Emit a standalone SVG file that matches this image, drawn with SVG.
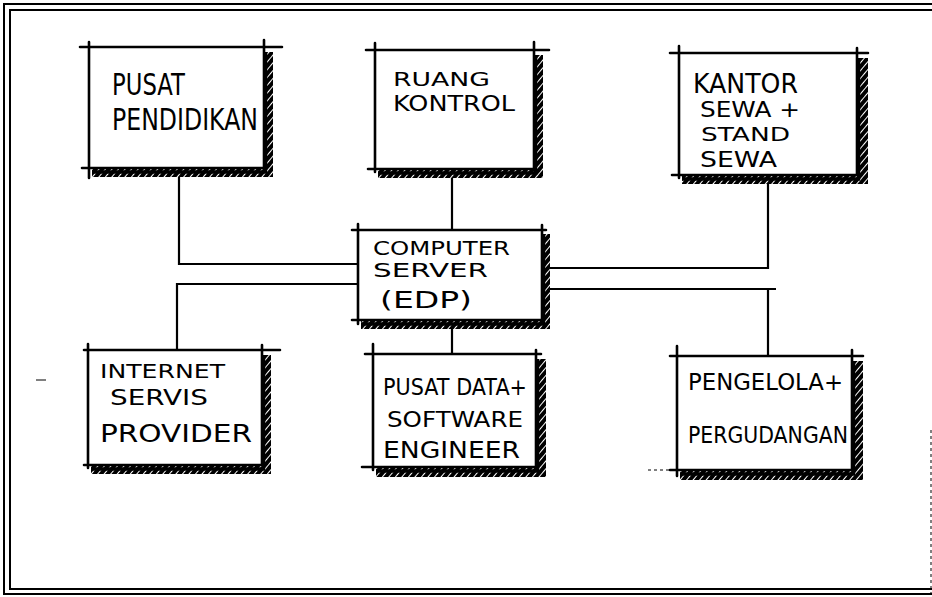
<svg xmlns="http://www.w3.org/2000/svg" width="932" height="597" viewBox="0 0 932 597">
<defs>
<pattern id="hatch" width="5" height="5" patternUnits="userSpaceOnUse" patternTransform="rotate(40)">
<rect width="5" height="5" fill="#fff"/>
<rect width="4" height="5" fill="#000"/>
</pattern>
</defs>
<style>
.frame{stroke:#000;stroke-width:2;fill:none}
.edge{stroke:#000;stroke-width:2.6;fill:none;stroke-linecap:round}
.sh{fill:url(#hatch)}
.shl{stroke:#000;stroke-width:3.5;fill:none}
.con{stroke:#000;stroke-width:2.2;fill:none}
.mark{stroke:#000;stroke-width:1;fill:none}
.t{font-family:"DejaVu Sans","Liberation Sans",sans-serif;fill:#000;font-weight:normal}
</style>
<rect width="932" height="597" fill="#fff"/>
<g id="frame">
<path class="frame" d="M932 4 H4 V594 H932"/>
<path class="frame" d="M932 10 H10 V589 H932"/>
<path class="mark" d="M931 430 V597" stroke-dasharray="3 3" stroke="#999"/>
</g>
<g id="connectors">
<path class="con" d="M179 175 V264 H358"/>
<path class="con" d="M452 176 V230"/>
<path class="con" d="M768 182 V268 H548"/>
<path class="con" d="M358 284 H177 V350"/>
<path class="con" d="M452 327 V354"/>
<path class="con" d="M548 289 H776 M768 289 V356"/>
</g>
<g id="pusat-pendidikan">
<rect class="sh" x="264" y="52" width="9" height="125"/>
<rect class="sh" x="92" y="168" width="181" height="9"/>
<path class="shl" d="M265.5 52 V172 H92"/>
<path class="edge" d="M80 47 H282 M89 42 V178 M82 168 H264 M264 40 V168"/>
<text class="t" x="112" y="95" font-size="30" textLength="73" lengthAdjust="spacingAndGlyphs">PUSAT</text>
<text class="t" x="112" y="130" font-size="30" textLength="146" lengthAdjust="spacingAndGlyphs">PENDIDIKAN</text>
</g>
<g id="ruang-kontrol">
<rect class="sh" x="534" y="55" width="9" height="123"/>
<rect class="sh" x="378" y="169" width="165" height="9"/>
<path class="shl" d="M535.5 55 V173 H378"/>
<path class="edge" d="M366 50 H549 M375 43 V172 M368 169 H534 M534 42 V169"/>
<text class="t" x="393" y="86" font-size="20" textLength="97" lengthAdjust="spacingAndGlyphs">RUANG</text>
<text class="t" x="393" y="111" font-size="21" textLength="122" lengthAdjust="spacingAndGlyphs">KONTROL</text>
</g>
<g id="kantor-sewa">
<rect class="sh" x="857" y="58" width="11" height="126"/>
<rect class="sh" x="682" y="175" width="186" height="9"/>
<path class="shl" d="M858.5 58 V179 H682"/>
<path class="edge" d="M670 53 H868 M679 46 V178 M672 175 H857 M857 48 V175"/>
<text class="t" x="693" y="93" font-size="27" textLength="105" lengthAdjust="spacingAndGlyphs">KANTOR</text>
<text class="t" x="700" y="117" font-size="21" textLength="100" lengthAdjust="spacingAndGlyphs">SEWA +</text>
<text class="t" x="701" y="141" font-size="20" textLength="89" lengthAdjust="spacingAndGlyphs">STAND</text>
<text class="t" x="700" y="167" font-size="22" textLength="77" lengthAdjust="spacingAndGlyphs">SEWA</text>
</g>
<g id="computer-server">
<rect class="sh" x="542" y="234" width="8" height="95"/>
<rect class="sh" x="361" y="320" width="189" height="9"/>
<path class="shl" d="M543.5 234 V324 H361"/>
<path class="edge" d="M352 230 H546 M358 224 V324 M352 320 H542 M542 225 V320"/>
<text class="t" x="373" y="255" font-size="20" textLength="137" lengthAdjust="spacingAndGlyphs">COMPUTER</text>
<text class="t" x="373" y="277" font-size="20" textLength="115" lengthAdjust="spacingAndGlyphs">SERVER</text>
<text class="t" x="380" y="308" font-size="23" textLength="92" lengthAdjust="spacingAndGlyphs">(EDP)</text>
</g>
<g id="internet-servis-provider">
<rect class="sh" x="262" y="355" width="9" height="119"/>
<rect class="sh" x="91" y="465" width="180" height="9"/>
<path class="shl" d="M263.5 355 V469 H91"/>
<path class="edge" d="M84 350 H280 M88 344 V468 M84 465 H262 M262 345 V465"/>
<text class="t" x="100" y="378" font-size="20" textLength="125" lengthAdjust="spacingAndGlyphs">INTERNET</text>
<text class="t" x="110" y="405" font-size="21" textLength="98" lengthAdjust="spacingAndGlyphs">SERVIS</text>
<text class="t" x="100" y="442" font-size="24" textLength="152" lengthAdjust="spacingAndGlyphs">PROVIDER</text>
</g>
<g id="pusat-data-software-engineer">
<rect class="sh" x="536" y="359" width="10" height="118"/>
<rect class="sh" x="376" y="467" width="170" height="10"/>
<path class="shl" d="M537.5 359 V471 H376"/>
<path class="edge" d="M365 354 H541 M373 344 V470 M362 467 H536 M536 350 V467"/>
<text class="t" x="383" y="395" font-size="23" textLength="144" lengthAdjust="spacingAndGlyphs">PUSAT DATA+</text>
<text class="t" x="387" y="427" font-size="21" textLength="136" lengthAdjust="spacingAndGlyphs">SOFTWARE</text>
<text class="t" x="383" y="458" font-size="23" textLength="137" lengthAdjust="spacingAndGlyphs">ENGINEER</text>
</g>
<g id="pengelola-pergudangan">
<rect class="sh" x="852" y="361" width="11" height="119"/>
<rect class="sh" x="680" y="470" width="183" height="10"/>
<path class="shl" d="M853.5 361 V474 H680"/>
<path class="edge" d="M670 356 H863 M677 346 V476 M670 470 H852 M852 350 V470"/>
<path class="mark" d="M648 470 H672" stroke-dasharray="3 3"/>
<text class="t" x="688" y="390" font-size="23" textLength="155" lengthAdjust="spacingAndGlyphs">PENGELOLA+</text>
<text class="t" x="688" y="443" font-size="23" textLength="160" lengthAdjust="spacingAndGlyphs">PERGUDANGAN</text>
</g>
<path class="mark" d="M36 380 H46" stroke-width="1.5"/>
</svg>
